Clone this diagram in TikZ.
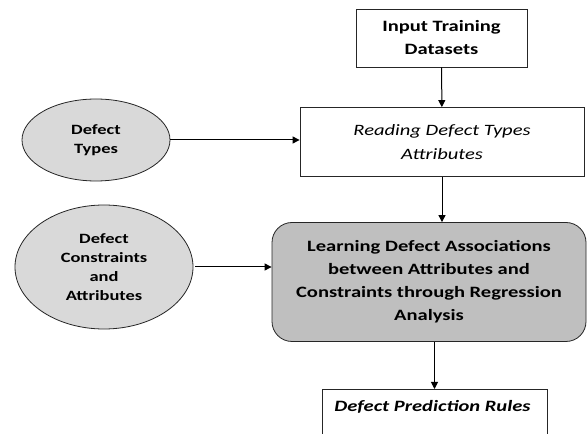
\documentclass[tikz,border=0pt]{standalone}
\usepackage{fontspec}
\setmainfont{Carlito}[FakeStretch=1.3]
\usetikzlibrary{shapes.geometric,arrows.meta}
\begin{document}
\begin{tikzpicture}[x=1pt,y=1pt,
  box/.style={draw=black!85, line width=0.8pt, align=center, inner sep=0pt},
  txt/.style={align=center, inner sep=0pt},
  oval/.style={ellipse, draw=black!85, fill=black!15, line width=0.8pt, align=center,
    inner sep=0pt, font=\bfseries\fontsize{14.2}{19}\selectfont},
  flow/.style={-{Triangle[length=7pt,width=7pt]}, line width=1pt}]
\clip (0,0) rectangle (587,434);
\fill[white] (0,0) rectangle (587,434);

% process boxes
\node[box, txt, font=\bfseries\fontsize{15.8}{23}\selectfont, minimum width=171, minimum height=58]
  (input) at (441.5,396) {Input Training\\Datasets};
\node[box, txt, font=\itshape\fontsize{15.8}{24}\selectfont, minimum width=284, minimum height=69]
  (reading) at (442,292) {Reading Defect Types\\Attributes};
\node[box, txt, font=\bfseries\fontsize{15.8}{23}\selectfont, fill=black!25, rounded corners=20pt,
  minimum width=314, minimum height=119]
  (learn) at (429,152) {Learning Defect Associations\\between Attributes and\\Constraints through Regression\\Analysis};
\node[box, minimum width=225, minimum height=80, anchor=north] (rules) at (434.5,45) {};
\node[txt, font=\bfseries\itshape\fontsize{15.8}{23}\selectfont] (rulestext) at (432.5,27) {Defect Prediction Rules};

% input ovals
\node[oval, minimum width=148, minimum height=82] (types) at (96,294) {Defect\\Types};
\node[oval, minimum width=178, minimum height=124] (cons) at (104,167) {Defect\\Constraints\\and\\Attributes};

% connectors
\draw[flow] (input) -- (reading);
\draw[flow] (reading.south) -- (reading.south |- learn.north);
\draw[flow] (types) -- (types -| reading.west);
\draw[flow] ([xshift=2pt]cons.east) -- (cons.east -| learn.west);
\draw[flow] (rules.north |- learn.south) -- (rules.north);
\end{tikzpicture}
\end{document}
